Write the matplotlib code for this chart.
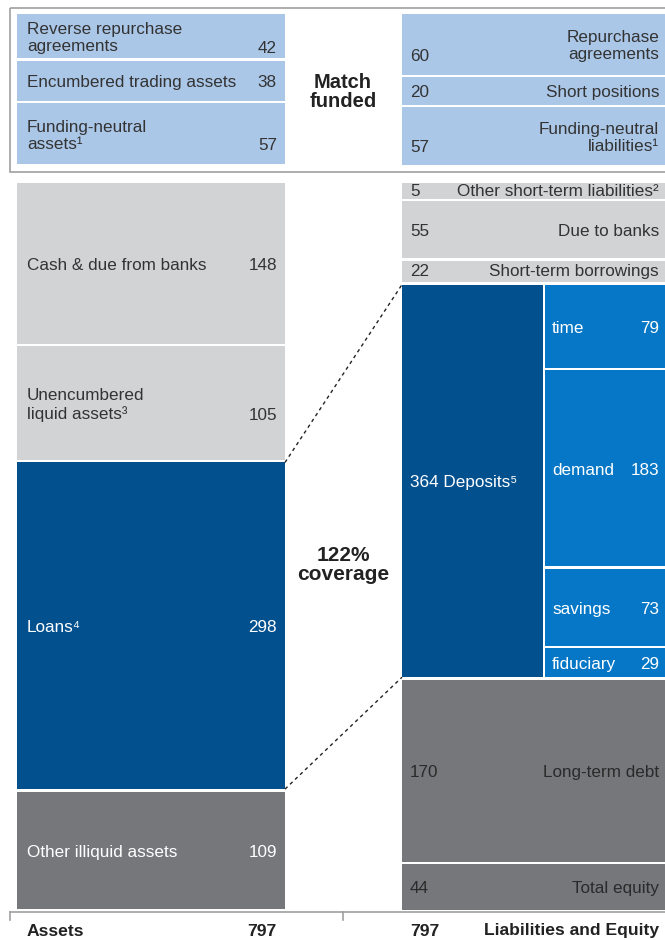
import numpy as np
import matplotlib
matplotlib.use('Agg')
import matplotlib.pyplot as plt

plt.rcParams['font.family'] = ['Liberation Sans', 'DejaVu Sans']

# match funded block (top)
mf_assets = ['Reverse repurchase\nagreements', 'Encumbered trading assets', 'Funding-neutral\nassets¹']
mf_assets_val = [42, 38, 57]
mf_liab = ['Repurchase\nagreements', 'Short positions', 'Funding-neutral\nliabilities¹']
mf_liab_val = [60, 20, 57]

# main balance sheet
assets = ['Cash & due from banks', 'Unencumbered\nliquid assets³', 'Loans⁴', 'Other illiquid assets']
assets_val = [148, 105, 298, 109]
liab = ['Other short-term liabilities²', 'Due to banks', 'Short-term borrowings',
        'Deposits⁵', 'Long-term debt', 'Total equity']
liab_val = [5, 55, 22, 364, 170, 44]
dep = ['time', 'demand', 'savings', 'fiduciary']
dep_val = [79, 183, 73, 29]
total_assets = 797
total_liab = 797
coverage = '122%'

LBLUE = '#abc7e8'
DBLUE = '#03508f'
MBLUE = '#0677c6'
LGRAY = '#d2d3d5'
DGRAY = '#76777b'
TXT = '#333333'


def layout(vals, total, minh):
    v = np.array(vals, float)
    small = np.zeros(len(v), bool)
    for _ in range(5):
        h = np.empty(len(v))
        h[small] = minh
        rest = total - minh * small.sum()
        h[~small] = v[~small] * rest / v[~small].sum()
        new = h < minh
        if (new == small).all():
            break
        small = small | new
    return h


fig = plt.figure(figsize=(6.65, 9.4), dpi=100)
ax = fig.add_axes([0, 0, 1, 1])
ax.set_xlim(0, 665)
ax.set_ylim(940, 0)
ax.axis('off')

gap = 2.5
fs = 12.3
ls = 1.2
half = 10  # offset of the 2nd line of a two-line label
dy = 2     # nudge text a bit lower

# left / right column geometry
LX, LW = 17, 268
RX, RW = 402, 264
dx = 545


def column(x, w, y0, heights, colors):
    tops = y0 + np.concatenate([[0], np.cumsum(heights)[:-1]])
    ax.bar(np.full(len(heights), x), heights - gap, bottom=tops, width=w,
           align='edge', color=colors, linewidth=0)
    return tops


# top box
ax.add_patch(plt.Rectangle((10, 8), 680, 164, fill=False, ec='#a0a0a0', lw=1.2))
h = layout(mf_assets_val, 153, 38)
tops = column(LX, LW, 14, h, [LBLUE] * 3)
for t, hh, lab, v in zip(tops, h, mf_assets, mf_assets_val):
    c = t + (hh - gap) / 2 + dy
    ax.text(27, c, lab, ha='left', va='center', fontsize=fs, color=TXT, linespacing=ls)
    yv = c + (half if '\n' in lab else 0)
    ax.text(277, yv, str(v), ha='right', va='center', fontsize=fs, color=TXT)

h = layout(mf_liab_val, 153, 30)
tops = column(RX, RW, 14, h, [LBLUE] * 3)
for t, hh, lab, v in zip(tops, h, mf_liab, mf_liab_val):
    c = t + (hh - gap) / 2 + dy
    ax.text(659, c, lab, ha='right', va='center', fontsize=fs, color=TXT, linespacing=ls)
    yv = c + (half if '\n' in lab else 0)
    ax.text(410, yv, str(v), ha='left', va='center', fontsize=fs, color=TXT)

ax.text(343, 92, 'Match\nfunded', ha='center', va='center', fontsize=14.5,
        fontweight='bold', color='#222222', linespacing=1.0)

# main section
Y0, TOT = 183, 729
h = layout(assets_val, TOT, 16)
acol = [LGRAY, LGRAY, DBLUE, DGRAY]
atops = column(LX, LW, Y0, h, acol)
for t, hh, lab, v, col in zip(atops, h, assets, assets_val, acol):
    c = t + (hh - gap) / 2 + dy
    tc = TXT if col == LGRAY else 'white'
    ax.text(27, c, lab, ha='left', va='center', fontsize=fs, color=tc, linespacing=ls)
    yv = c + (half if '\n' in lab else 0)
    ax.text(277, yv, str(v), ha='right', va='center', fontsize=fs, color=tc)
ah = h

h = layout(liab_val, TOT, 18)
lcol = [LGRAY, LGRAY, LGRAY, DBLUE, DGRAY, DGRAY]
di = liab.index('Deposits⁵')
widths = [RW if i != di else dx - 2 - RX for i in range(len(liab))]
ltops = Y0 + np.concatenate([[0], np.cumsum(h)[:-1]])
ax.bar(np.full(len(h), RX), h - gap, bottom=ltops, width=widths,
       align='edge', color=lcol, linewidth=0)
for t, hh, lab, v, col in zip(ltops, h, liab, liab_val, lcol):
    c = t + (hh - gap) / 2 + (dy if hh > 25 else 0.5)
    tc = TXT if col == LGRAY else 'white'
    if lab.startswith('Deposits'):
        ax.text(410, c, f'{v} {lab}', ha='left', va='center', fontsize=fs, color='white')
        continue
    if col == DGRAY:
        tc = '#2a2a2a'
    ax.text(659, c, lab, ha='right', va='center', fontsize=fs, color=tc)
    ax.text(410, c, str(v), ha='left', va='center', fontsize=fs, color=tc)

# deposits split
dh = np.array(dep_val, float) * h[di] / sum(dep_val)
dtops = ltops[di] + np.concatenate([[0], np.cumsum(dh)[:-1]])
ax.bar(np.full(len(dh), dx), dh - gap, bottom=dtops, width=665 + 5 - dx,
       align='edge', color=MBLUE, linewidth=0)
for t, hh, lab, v in zip(dtops, dh, dep, dep_val):
    c = t + (hh - gap) / 2 + dy
    ax.text(552, c, lab, ha='left', va='center', fontsize=fs, color='white')
    ax.text(659, c, str(v), ha='right', va='center', fontsize=fs, color='white')

# dashed connectors loans -> deposits
li = assets.index('Loans⁴')
ax.plot([LX + LW, RX], [atops[li], ltops[di]], ls=(0, (2.5, 2.5)), color='#222222', lw=1)
ax.plot([LX + LW, RX], [atops[li] + ah[li] - gap, ltops[di] + h[di] - gap],
        ls=(0, (2.5, 2.5)), color='#222222', lw=1)
ax.text(343, 565, f'{coverage}\ncoverage', ha='center', va='center', fontsize=15,
        fontweight='bold', color='#222222', linespacing=1.0)

# bottom axis + totals
ax.plot([10, 670], [912, 912], color='#a0a0a0', lw=1.2)
for xx in [10, 343]:
    ax.plot([xx, xx], [912, 920], color='#a0a0a0', lw=1.2)
bfs = 12.6
ax.text(27, 931, 'Assets', ha='left', va='center', fontsize=bfs, fontweight='bold', color='#222222')
ax.text(277, 931, str(total_assets), ha='right', va='center', fontsize=bfs, fontweight='bold', color='#222222')
ax.text(410, 931, str(total_liab), ha='left', va='center', fontsize=bfs, fontweight='bold', color='#222222')
ax.text(659, 931, 'Liabilities and Equity', ha='right', va='center', fontsize=bfs,
        fontweight='bold', color='#222222')

fig.savefig('out.png', dpi=100)
